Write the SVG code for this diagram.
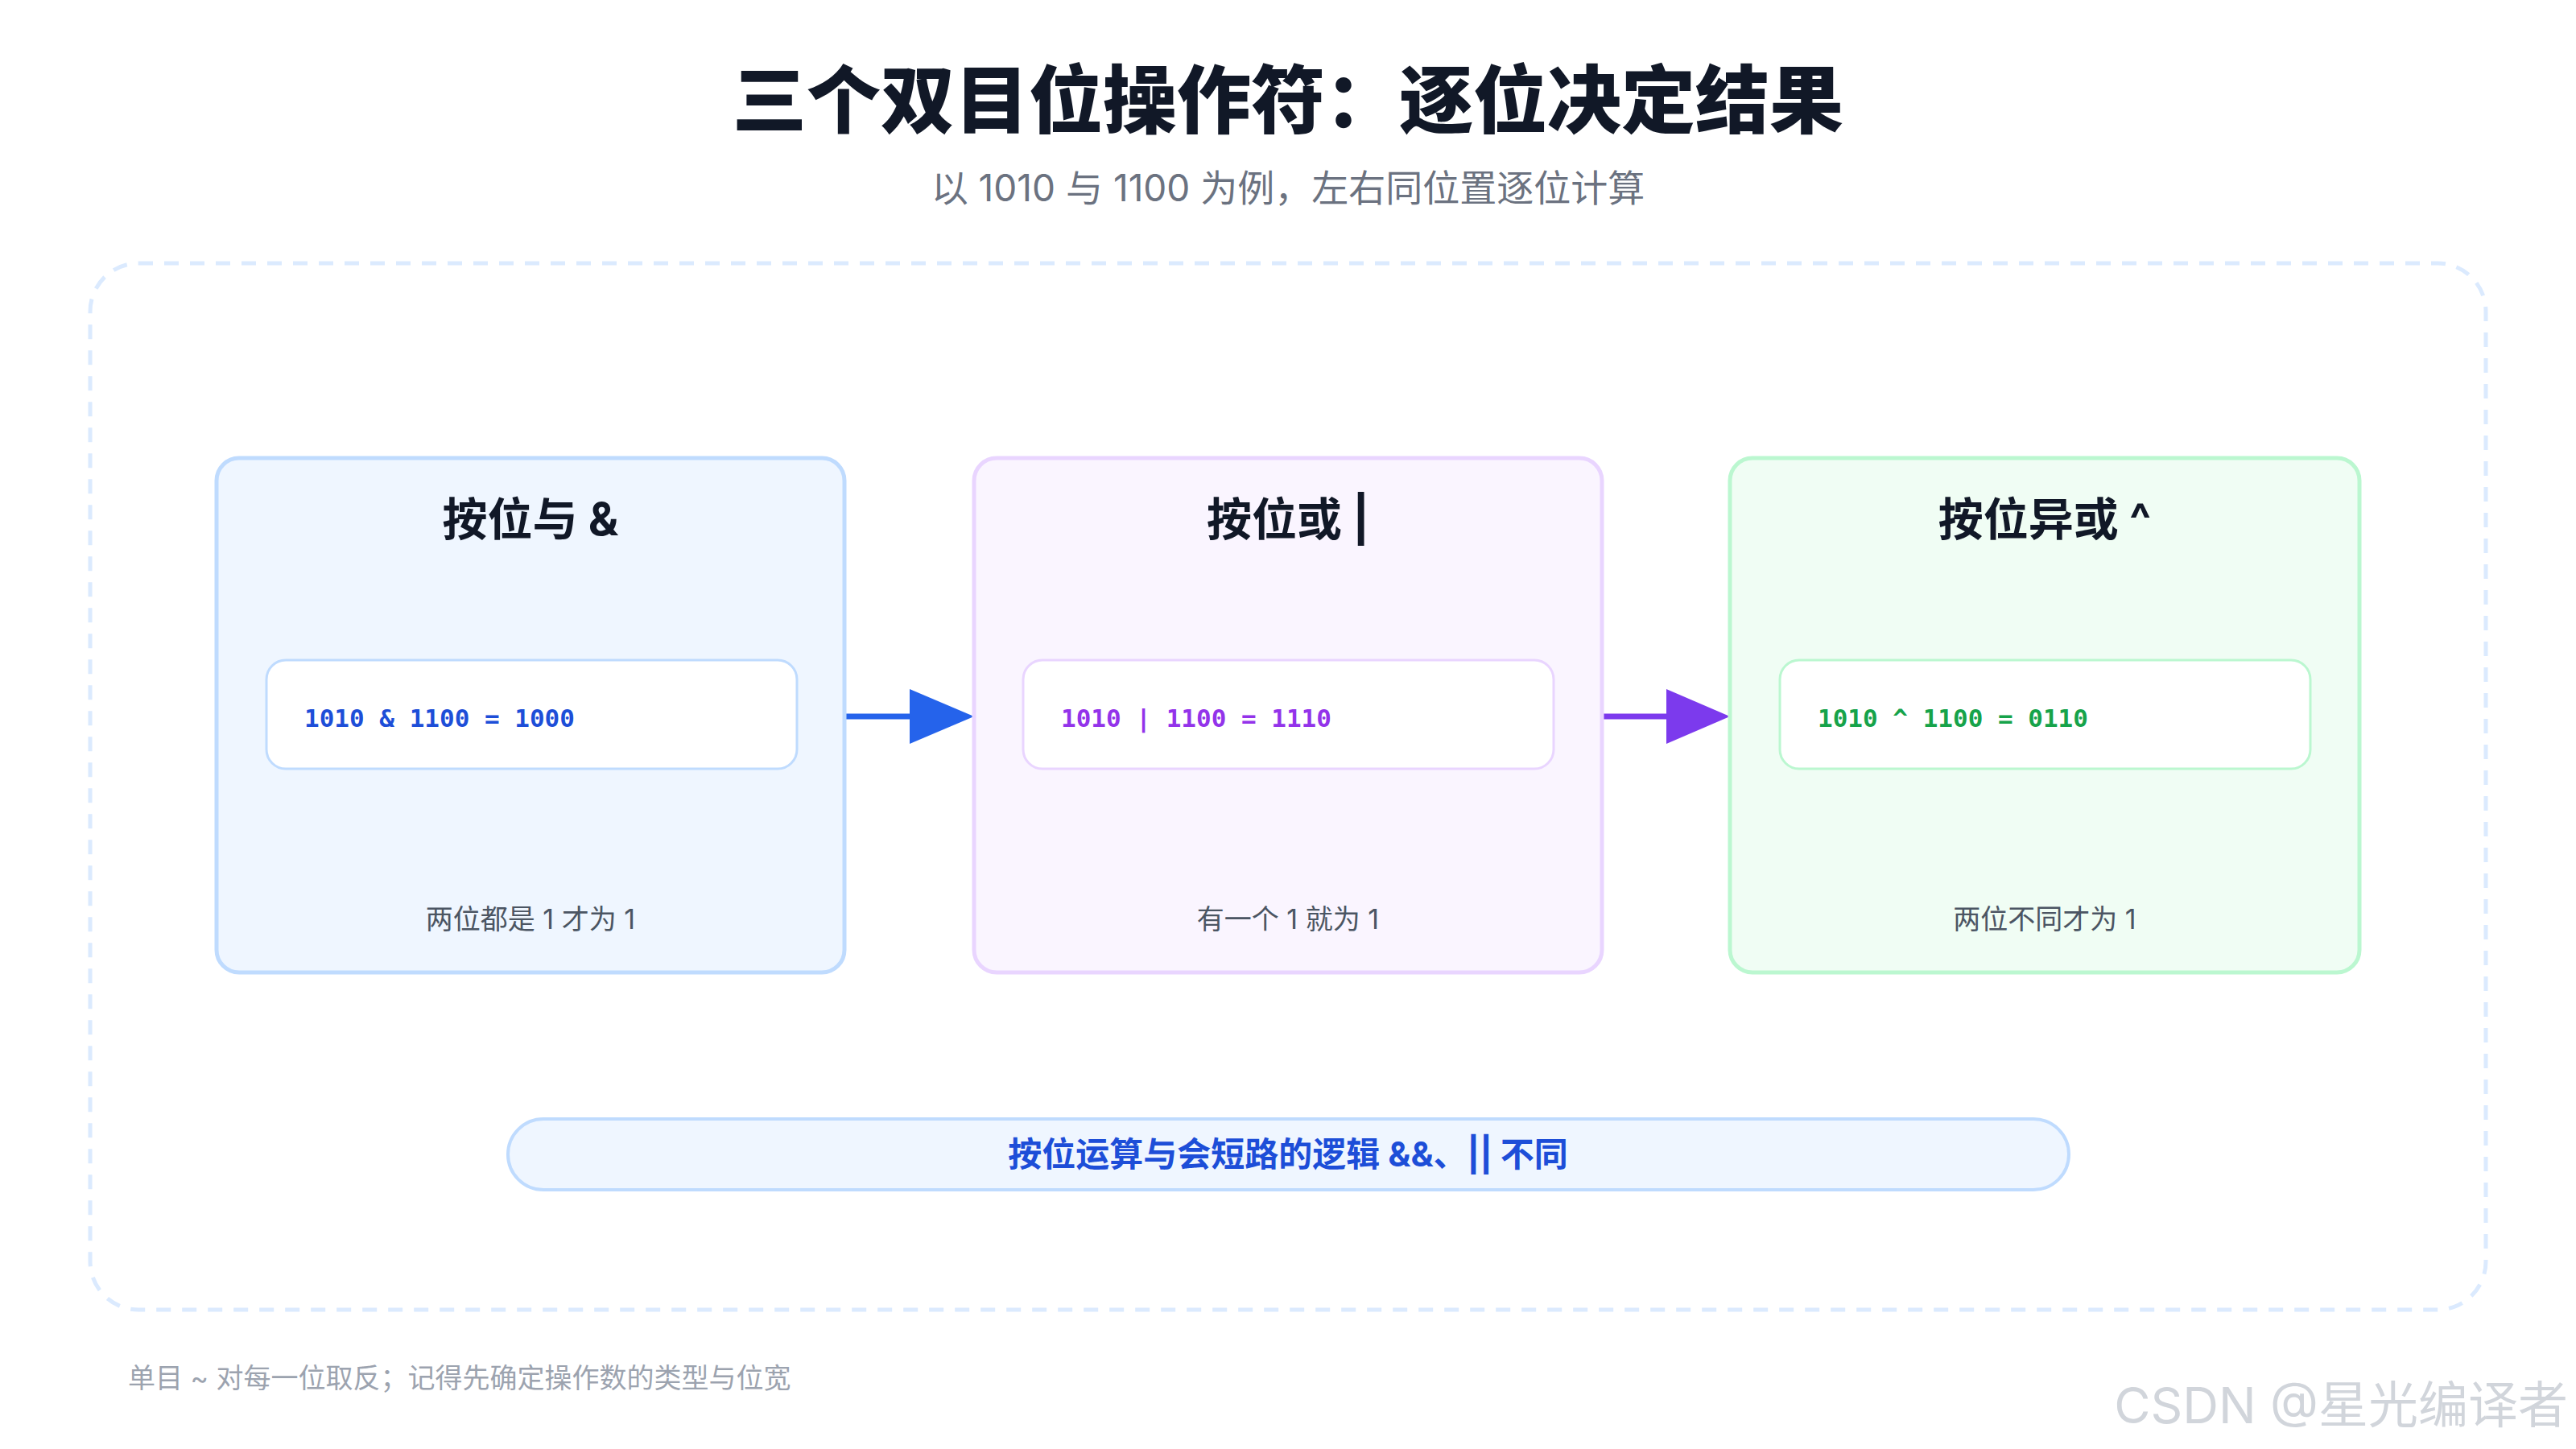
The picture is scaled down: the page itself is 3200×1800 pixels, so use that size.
<svg xmlns="http://www.w3.org/2000/svg" width="3200" height="1800" viewBox="0 0 3200 1800">
<style>
.t{font-family:"Inter","Noto Sans CJK SC",sans-serif}
.h{font-family:"Inter","Noto Sans CJK SC",sans-serif;font-size:56px;font-weight:700;fill:#111827;text-anchor:middle}
.c{font-family:"DejaVu Sans Mono","Liberation Mono",monospace;font-size:31px;font-weight:700}
.d{font-family:"Inter","Noto Sans CJK SC",sans-serif;font-size:34px;fill:#4b5563;text-anchor:middle}
.in{fill:#ffffff;stroke-width:3}
</style>
<defs>
<marker id="ab" viewBox="0 0 10 10" refX="10" refY="5" markerWidth="10" markerHeight="10" markerUnits="userSpaceOnUse" orient="auto"><path d="M0,0L10,5L0,10z" fill="#2563eb"/></marker>
</defs>
<rect width="3200" height="1800" fill="#ffffff"/>
<text x="1600" y="158" class="t" font-size="92" font-weight="800" fill="#111827" text-anchor="middle">三个双目位操作符：逐位决定结果</text>
<text x="1600" y="250" class="t" font-size="46" fill="#6b7280" text-anchor="middle">以 1010 与 1100 为例，左右同位置逐位计算</text>
<rect x="112" y="327" width="2976" height="1300" rx="60" fill="none" stroke="#dbeafe" stroke-width="5" stroke-dasharray="18 14"/>
<g id="connectors">
<line x1="1049" y1="890" x2="1135" y2="890" stroke="#2563eb" stroke-width="7"/>
<path d="M1130,856L1210,890L1130,924z" fill="#2563eb"/>
<line x1="1990" y1="890" x2="2075" y2="890" stroke="#7c3aed" stroke-width="7"/>
<path d="M2070,856L2149,890L2070,924z" fill="#7c3aed"/>
</g>
<g id="and">
<rect x="269" y="569" width="780" height="639" rx="28" fill="#eff6ff" stroke="#bfdbfe" stroke-width="5"/>
<text x="659" y="665" class="h">按位与 &amp;</text>
<rect x="331" y="820" width="659" height="135" rx="24" class="in" stroke="#bfdbfe"/>
<text x="378" y="903" class="c" fill="#1d4ed8" xml:space="preserve">1010 &amp; 1100 = 1000</text>
<text x="659" y="1154" class="d">两位都是 1 才为 1</text>
</g>
<g id="or">
<rect x="1210" y="569" width="780" height="639" rx="28" fill="#faf5ff" stroke="#e9d5ff" stroke-width="5"/>
<text x="1600" y="665" class="h">按位或 |</text>
<rect x="1271" y="820" width="659" height="135" rx="24" class="in" stroke="#e9d5ff"/>
<text x="1318" y="903" class="c" fill="#9333ea" xml:space="preserve">1010 | 1100 = 1110</text>
<text x="1600" y="1154" class="d">有一个 1 就为 1</text>
</g>
<g id="xor">
<rect x="2149" y="569" width="782" height="639" rx="28" fill="#f0fdf4" stroke="#bbf7d0" stroke-width="5"/>
<text x="2540" y="665" class="h">按位异或 ^</text>
<rect x="2211" y="820" width="659" height="135" rx="24" class="in" stroke="#bbf7d0"/>
<text x="2258" y="903" class="c" fill="#16a34a" xml:space="preserve">1010 ^ 1100 = 0110</text>
<text x="2540" y="1154" class="d">两位不同才为 1</text>
</g>
<g id="note">
<rect x="631" y="1390" width="1939" height="88" rx="44" fill="#eff6ff" stroke="#bfdbfe" stroke-width="4"/>
<text x="1600" y="1449" class="t" font-size="42" font-weight="700" fill="#1d4ed8" text-anchor="middle">按位运算与会短路的逻辑 &amp;&amp;、|| 不同</text>
</g>
<text x="159" y="1724" class="t" font-size="34" fill="#9ca3af">单目 ~ 对每一位取反；记得先确定操作数的类型与位宽</text>
<text x="3190" y="1768" class="t" font-size="62" fill="#d1d5db" text-anchor="end">CSDN @星光编译者</text>
</svg>
